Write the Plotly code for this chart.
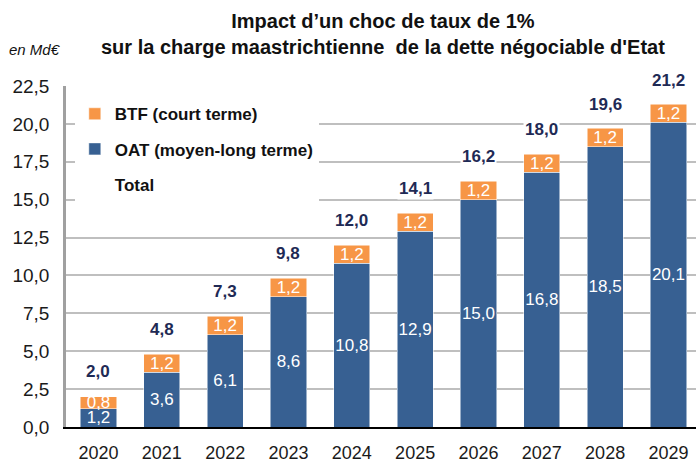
import plotly.graph_objects as go

# Impact d'un choc de taux de 1% (en Md€)
years = ["2020", "2021", "2022", "2023", "2024", "2025", "2026", "2027", "2028", "2029"]
oat = [1.2, 3.6, 6.1, 8.6, 10.8, 12.9, 15.0, 16.8, 18.5, 20.1]
btf = [0.8, 1.2, 1.2, 1.2, 1.2, 1.2, 1.2, 1.2, 1.2, 1.2]
total = [2.0, 4.8, 7.3, 9.8, 12.0, 14.1, 16.2, 18.0, 19.6, 21.2]

FONT = "Liberation Sans, Arial, sans-serif"
BLUE = "#376092"
ORANGE = "#F79646"
NAVY = "#1F2A55"


def fr(v):
    return f"{v:.1f}".replace(".", ",")


fig = go.Figure()

fig.add_trace(go.Bar(
    x=years, y=oat, name="OAT (moyen-long terme)",
    marker=dict(color=BLUE, line=dict(color="white", width=0.5)),
    text=[fr(v) for v in oat], textposition="inside", insidetextanchor="middle",
    textangle=0, textfont=dict(color="white", size=17, family=FONT),
    legendrank=2, legendgroup="oat",
))
fig.add_trace(go.Bar(
    x=years, y=btf, name="BTF (court terme)",
    marker=dict(color=ORANGE, line=dict(color="white", width=0.5)),
    text=[fr(v) for v in btf], textposition="inside", insidetextanchor="middle",
    textangle=0, textfont=dict(color="white", size=17, family=FONT),
    legendrank=1, legendgroup="btf",
))
# total only shown as labels; the trace is here for the legend entry
fig.add_trace(go.Scatter(
    x=years, y=total, name="Total", mode="markers",
    marker=dict(color="rgba(0,0,0,0)", size=1),
    legendrank=3, legendgroup="tot", hoverinfo="skip",
))

# category axis: annotations placed by category index
for i, t in enumerate(total):
    fig.add_annotation(
        x=i, y=t, xref="x", yref="y", yshift=25, text="<b>" + fr(t) + "</b>",
        showarrow=False, font=dict(size=17, color=NAVY, family=FONT),
        bgcolor="white", borderpad=1,
    )

fig.add_annotation(
    xref="paper", yref="paper", x=0.503, y=1.152, xanchor="center", yanchor="middle",
    text="<b>Impact d\u2019un choc de taux de 1%<br>sur la charge maastrichtienne  de la dette négociable d'Etat</b>",
    showarrow=False, font=dict(size=20, color="#111111", family=FONT),
)
fig.add_annotation(
    xref="paper", yref="paper", x=-0.093, y=1.108, xanchor="left", yanchor="middle",
    text="<i>en Md€</i>", showarrow=False,
    font=dict(size=15, color="#111111", family=FONT),
)

fig.update_layout(
    width=696, height=463,
    margin=dict(l=66, r=0, t=86, b=36),
    barmode="stack", bargap=0.43,
    plot_bgcolor="white", paper_bgcolor="white",
    separators=", ",
    uniformtext=dict(minsize=17, mode="show"),
    font=dict(family=FONT, color="#1a1a1a"),
    legend=dict(
        x=0.014, y=0.97, xanchor="left", yanchor="top",
        bgcolor="white", tracegroupgap=10,
        font=dict(size=17, color="#111111", family=FONT, weight="bold"),
        itemwidth=30,
    ),
    xaxis=dict(
        type="category", range=[-0.513, 9.435], automargin=False,
        showline=True, linecolor="black", linewidth=2,
        tickfont=dict(size=18, color="#1a1a1a"), ticks="", ticklabelstandoff=8,
        showgrid=False, fixedrange=True,
    ),
    yaxis=dict(
        range=[0, 22.5], dtick=2.5, tickformat=".1f", automargin=False,
        showline=True, linecolor="#A0A0A0", linewidth=2.5,
        gridcolor="#BFBFBF", gridwidth=1.5,
        ticks="", tickfont=dict(size=19, color="#1a1a1a"), ticklabelstandoff=10,
        zeroline=False,
    ),
)

# the page's default body margin would shift the figure by 8px
fig.write_html("out.html", config={"displayModeBar": False},
               post_script="document.body.style.margin='0';")
